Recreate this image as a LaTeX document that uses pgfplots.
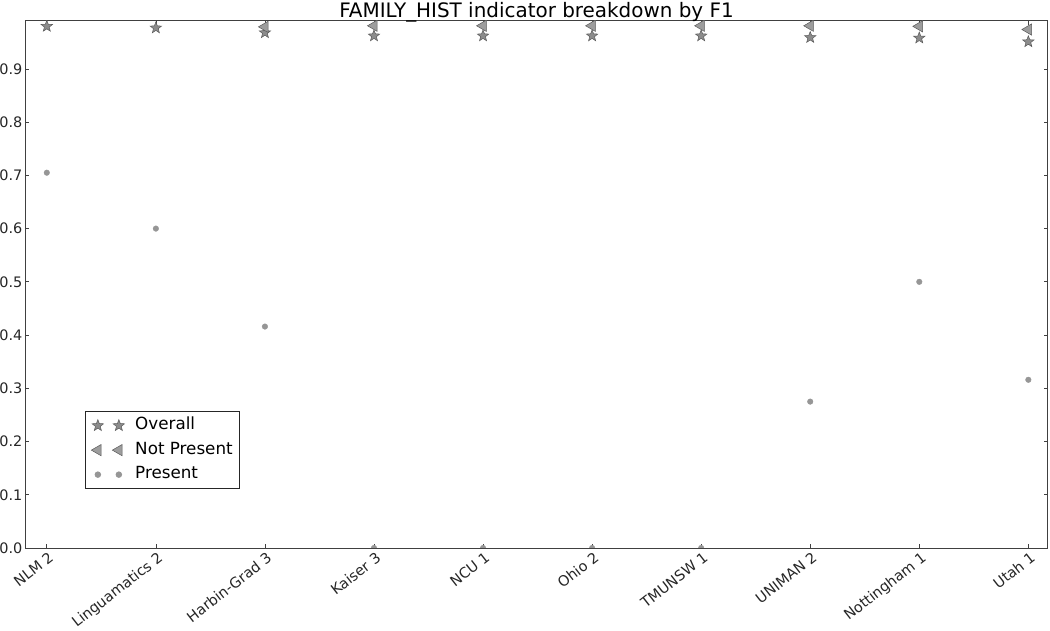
\documentclass[border=0pt]{standalone}
\usepackage{fontspec}
\setmainfont{DejaVu Sans}
\usepackage{pgfplots}
\pgfplotsset{compat=1.18}
\usetikzlibrary{plotmarks}

\pgfdeclareplotmark{fstar}{%
  \pgfpathmoveto{\pgfpointpolar{90}{\pgfplotmarksize}}%
  \pgfpathlineto{\pgfpointpolar{126}{0.42\pgfplotmarksize}}%
  \pgfpathlineto{\pgfpointpolar{162}{\pgfplotmarksize}}%
  \pgfpathlineto{\pgfpointpolar{198}{0.42\pgfplotmarksize}}%
  \pgfpathlineto{\pgfpointpolar{234}{\pgfplotmarksize}}%
  \pgfpathlineto{\pgfpointpolar{270}{0.42\pgfplotmarksize}}%
  \pgfpathlineto{\pgfpointpolar{306}{\pgfplotmarksize}}%
  \pgfpathlineto{\pgfpointpolar{342}{0.42\pgfplotmarksize}}%
  \pgfpathlineto{\pgfpointpolar{18}{\pgfplotmarksize}}%
  \pgfpathlineto{\pgfpointpolar{54}{0.42\pgfplotmarksize}}%
  \pgfpathclose
  \pgfusepathqfillstroke
}

\definecolor{mfill}{RGB}{140,140,140}
\definecolor{medge}{RGB}{90,90,90}
\definecolor{dotc}{RGB}{150,150,150}

\begin{document}
\begin{tikzpicture}
\useasboundingbox (0,0) rectangle (1050bp,631bp);
\begin{axis}[
  at={(25bp,83bp)}, anchor=south west,
  scale only axis, width=1023bp, height=527bp,
  xmin=-0.2, xmax=9.18, ymin=0, ymax=0.99,
  xtick={0,1,2,3,4,5,6,7,8,9},
  xticklabels={NLM 2, Linguamatics 2, Harbin-Grad 3, Kaiser 3, NCU 1, Ohio 2, TMUNSW 1, UNIMAN 2, Nottingham 1, Utah 1},
  ytick={0,0.1,0.2,0.3,0.4,0.5,0.6,0.7,0.8,0.9},
  yticklabel style={/pgf/number format/fixed, /pgf/number format/fixed zerofill, /pgf/number format/precision=1},
  /pgf/number format/assume math mode=true,
  tick label style={font=\fontsize{14.5}{16}\selectfont, text=black!85},
  xticklabel style={rotate=38, anchor=north east, inner sep=1bp, yshift=-2bp, xshift=0bp},
  yticklabel style={inner sep=2.5bp},
  tick align=inside, tick pos=both,
  major tick length=4bp,
  axis line style={line width=1bp, black!75},
  every tick/.style={black!75, line width=0.7bp},
  title={FAMILY\_HIST indicator breakdown by F1},
  every axis title shift=0pt,
  title style={font=\fontsize{20}{22}\selectfont, at={(0.5,1)}, anchor=base, inner sep=0bp, yshift=3bp},
  clip marker paths=true,
  legend cell align=left,
  legend style={at={(0.0587,0.26)}, anchor=north west, draw=black!85, line width=0.8bp,
    font=\fontsize{16.8}{18}\selectfont, inner xsep=2bp, inner ysep=3bp, row sep=2bp,
    nodes={inner xsep=5bp, inner ysep=4bp, text height=11.5bp, text depth=3bp}},
  legend image code/.code={\draw[#1, only marks] plot coordinates {(10bp,0bp) (31bp,0bp)}; \path (0bp,0bp) (42bp,0bp);},
]
\addplot[only marks, mark=fstar, mark size=6bp, mark options={fill=mfill, draw=medge, line width=0.5bp}] coordinates {
(0,0.980) (1,0.977) (2,0.968) (3,0.962) (4,0.962) (5,0.962) (6,0.962) (7,0.959) (8,0.958) (9,0.951)};
\addlegendentry{Overall}
\addplot[only marks, mark=triangle*, mark size=6.5bp, mark options={rotate=90, fill=mfill!85, draw=medge, line width=0.5bp}] coordinates {
(0,0.995) (1,0.992) (2,0.979) (3,0.981) (4,0.981) (5,0.981) (6,0.981) (7,0.981) (8,0.980) (9,0.974)};
\addlegendentry{Not Present}
\addplot[only marks, mark=*, mark size=2.8bp, mark options={fill=dotc, draw=dotc}] coordinates {
(0,0.705) (1,0.600) (2,0.416) (3,0) (4,0) (5,0) (6,0) (7,0.275) (8,0.500) (9,0.316)};
\addlegendentry{Present}
\end{axis}
\end{tikzpicture}
\end{document}
